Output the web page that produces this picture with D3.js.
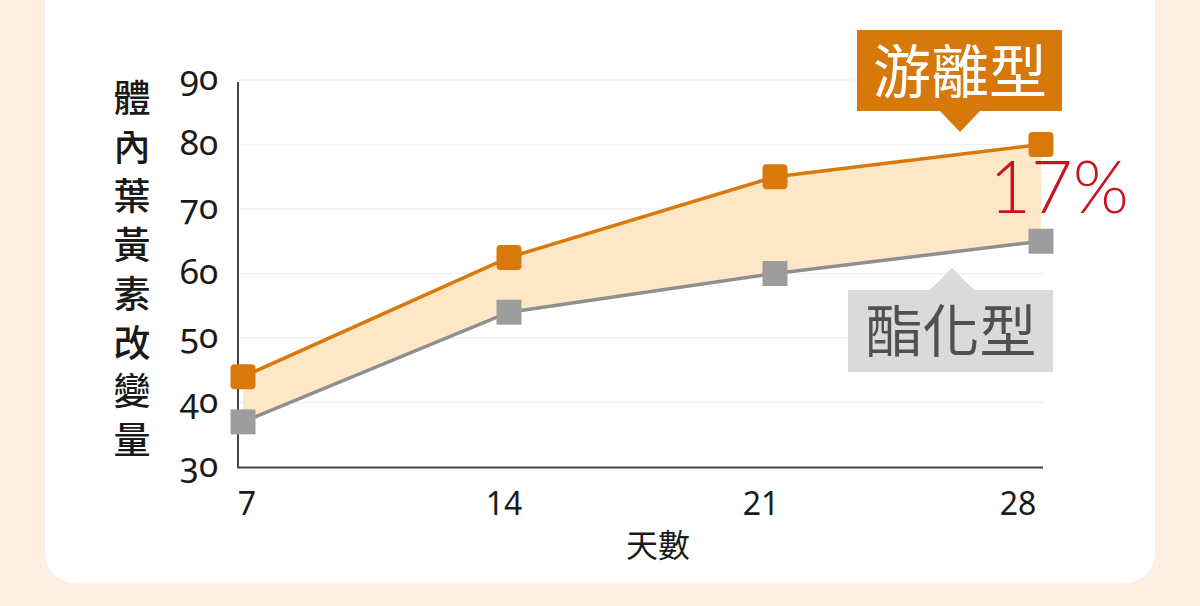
<!DOCTYPE html>
<html>
<head>
<meta charset="utf-8">
<script src="https://cdn.jsdelivr.net/npm/d3@7"></script>
<style>
  html, body { margin: 0; padding: 0; background: #fdf0e2; }
  svg { display: block; }
</style>
</head>
<body>
<script>
// data
var days = [7, 14, 21, 28];
var freeForm = [44, 62.5, 75, 80];     // 游離型
var esterForm = [37, 54, 60, 65];      // 酯化型
var yTicks = [30, 40, 50, 60, 70, 80, 90];
var yTitle = "體內葉黃素改變量";
var xTitle = "天數";
var freeLabel = "游離型";
var esterLabel = "酯化型";
var diffLabel = "17%";

var svgWidth = 1200;
var svgHeight = 606;

var svg = d3.select("body")
  .append("svg")
  .attr("width", svgWidth)
  .attr("height", svgHeight);

// white card
svg.append("rect")
  .attr("x", 45).attr("y", -40)
  .attr("width", 1110).attr("height", 623)
  .attr("rx", 30)
  .attr("fill", "#ffffff");

// scales
var x = d3.scaleLinear().domain([7, 28]).range([243, 1041]);
var xLab = d3.scaleLinear().domain([7, 28]).range([247, 1018]);
var y = d3.scaleLinear().domain([30, 90]).range([467, 80]);

var rows = days.map(function(d, i) {
  return { day: d, free: freeForm[i], ester: esterForm[i] };
});

// gridlines
svg.append("g")
  .selectAll("line")
  .data(yTicks.slice(1))
  .enter()
  .append("line")
  .attr("x1", 238).attr("x2", 1043)
  .attr("y1", d => y(d)).attr("y2", d => y(d))
  .attr("stroke", "#f1f1f1")
  .attr("stroke-width", 1.5);

// y tick labels
svg.append("g")
  .selectAll("text")
  .data(yTicks)
  .enter()
  .append("text")
  .attr("x", 199)
  .attr("y", d => y(d) + 10)
  .attr("text-anchor", "middle")
  .style("font-family", "'Noto Sans', sans-serif")
  .style("font-variant-numeric", "oldstyle-nums")
  .style("font-size", "35px")
  .attr("fill", "#1a1a1a")
  .text(d => d);

// y title, vertical characters
svg.append("g")
  .selectAll("text")
  .data(yTitle.split(""))
  .enter()
  .append("text")
  .attr("x", 132)
  .attr("y", (d, i) => 112 + i * 48.9)
  .attr("text-anchor", "middle")
  .style("font-family", "'Noto Sans CJK TC', sans-serif")
  .style("font-weight", "500")
  .style("font-size", "37px")
  .attr("fill", "#1a1a1a")
  .text(d => d);

// area between the two series
var area = d3.area()
  .x(d => x(d.day))
  .y0(d => y(d.ester))
  .y1(d => y(d.free));

svg.append("path")
  .datum(rows)
  .attr("d", area)
  .attr("fill", "#fde7c6");

// axes lines
svg.append("line")
  .attr("x1", 238).attr("x2", 238)
  .attr("y1", 82).attr("y2", 467.5)
  .attr("stroke", "#444").attr("stroke-width", 2);
svg.append("line")
  .attr("x1", 237).attr("x2", 1043)
  .attr("y1", 467.5).attr("y2", 467.5)
  .attr("stroke", "#444").attr("stroke-width", 2);

// x tick labels
svg.append("g")
  .selectAll("text")
  .data(days)
  .enter()
  .append("text")
  .attr("x", d => xLab(d))
  .attr("y", 515)
  .attr("text-anchor", "middle")
  .style("font-family", "'Noto Sans', sans-serif")
  .style("font-size", "32px")
  .attr("fill", "#1a1a1a")
  .text(d => d);

svg.append("text")
  .attr("x", 658)
  .attr("y", 557)
  .attr("text-anchor", "middle")
  .style("font-family", "'Noto Sans CJK TC', sans-serif")
  .style("font-size", "32px")
  .attr("fill", "#1a1a1a")
  .text(xTitle);

// lines
var lineFree = d3.line().x(d => x(d.day)).y(d => y(d.free));
var lineEster = d3.line().x(d => x(d.day)).y(d => y(d.ester));

svg.append("path")
  .datum(rows)
  .attr("d", lineEster)
  .attr("fill", "none")
  .attr("stroke", "#8f8f8f")
  .attr("stroke-width", 3.5);

svg.append("path")
  .datum(rows)
  .attr("d", lineFree)
  .attr("fill", "none")
  .attr("stroke", "#d9790b")
  .attr("stroke-width", 3.5);

// markers
var ms = 25;
svg.append("g")
  .selectAll("rect")
  .data(rows)
  .enter()
  .append("rect")
  .attr("x", d => x(d.day) - ms / 2)
  .attr("y", d => y(d.ester) - ms / 2)
  .attr("width", ms).attr("height", ms)
  .attr("fill", "#9d9d9d");

svg.append("g")
  .selectAll("rect")
  .data(rows)
  .enter()
  .append("rect")
  .attr("x", d => x(d.day) - ms / 2)
  .attr("y", d => y(d.free) - ms / 2)
  .attr("width", ms).attr("height", ms)
  .attr("rx", 4)
  .attr("fill", "#d9790b");

// 游離型 callout
svg.append("path")
  .attr("d", "M857,30 H1062 V111 H980 L960,132 L940,111 H857 Z")
  .attr("fill", "#d6780a");
svg.append("text")
  .attr("x", 960)
  .attr("y", 93)
  .attr("text-anchor", "middle")
  .style("font-family", "'Noto Sans CJK TC', sans-serif")
  .style("font-size", "58px")
  .attr("fill", "#ffffff")
  .text(freeLabel);

// 酯化型 callout
svg.append("path")
  .attr("d", "M848,290 H930 L952,268 L974,290 H1053 V372 H848 Z")
  .attr("fill", "#dadada");
svg.append("text")
  .attr("x", 951)
  .attr("y", 352)
  .attr("text-anchor", "middle")
  .style("font-family", "'Noto Sans CJK TC', sans-serif")
  .style("font-size", "57px")
  .attr("fill", "#505050")
  .text(esterLabel);

// difference label
svg.append("text")
  .attr("x", 1059)
  .attr("y", 213)
  .attr("text-anchor", "middle")
  .style("font-family", "Lato, 'Noto Sans', sans-serif")
  .style("font-weight", "300")
  .style("font-size", "72px")
  .attr("fill", "#c8141e")
  .text(diffLabel);
</script>
</body>
</html>
